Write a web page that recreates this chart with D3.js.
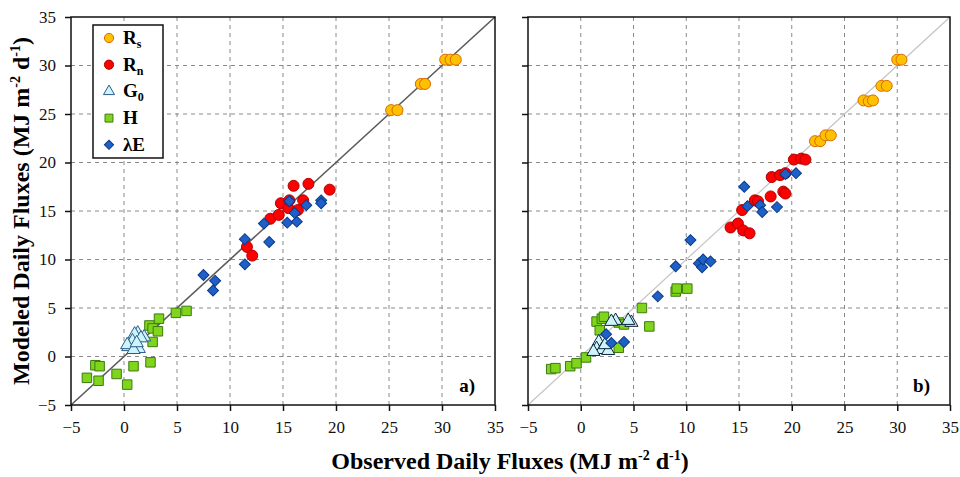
<!DOCTYPE html>
<html>
<head>
<meta charset="utf-8">
<script src="https://cdn.jsdelivr.net/npm/d3@7"></script>
<style>
  body { margin: 0; background: #fff; }
  text { font-family: "Liberation Serif", "Times New Roman", serif; }
</style>
</head>
<body>
<svg id="chart" width="960" height="477"></svg>
<script>
// tick values shared by both axes
const tickValues = [-5, 0, 5, 10, 15, 20, 25, 30, 35];

// panel a) — [observed, modeled]
const rsA = [[25.2, 25.4], [25.8, 25.4], [28.0, 28.1], [28.4, 28.1], [30.3, 30.6], [30.8, 30.6], [31.3, 30.6]];
const rnA = [[11.6, 11.3], [12.1, 10.4], [13.8, 14.2], [14.6, 14.6], [14.8, 15.8], [15.5, 15.3], [15.6, 16.1],
             [16.4, 15.1], [16.9, 16.1], [16.0, 17.6], [17.4, 17.8], [19.4, 17.2]];
const g0A = [[1.3, 2.4], [1.0, 2.3], [1.9, 2.0], [1.6, 1.9], [0.8, 1.6], [0.4, 1.0], [0.3, 1.2],
             [1.4, 0.8], [0.9, 0.7], [1.2, 1.4]];
const hA = [[4.9, 4.5], [5.9, 4.7], [3.3, 3.9], [2.4, 3.2], [2.7, 2.9], [3.2, 2.6], [2.7, 1.5],
            [2.5, -0.6], [0.9, -1.0], [-2.7, -0.9], [-2.3, -1.0], [-0.7, -1.8], [-3.5, -2.2],
            [-2.4, -2.5], [0.3, -2.9]];
const leA = [[7.5, 8.4], [8.6, 7.8], [8.4, 6.8], [11.4, 9.5], [11.4, 12.1], [13.7, 11.8], [13.2, 13.7],
             [15.4, 13.8], [16.3, 13.9], [15.6, 16.0], [16.1, 14.8], [17.2, 15.6], [18.6, 16.1], [18.6, 15.8]];

// panel b)
const rsB = [[22.2, 22.2], [22.7, 22.2], [23.2, 22.8], [23.7, 22.8], [26.8, 26.4], [27.3, 26.3], [27.7, 26.4],
             [28.5, 27.9], [29.0, 27.9], [30.0, 30.6], [30.4, 30.6]];
const rnB = [[20.2, 20.3], [20.9, 20.4], [21.3, 20.3], [18.1, 18.5], [18.9, 18.7], [19.4, 18.9], [19.2, 17.0],
             [19.4, 16.8], [18.0, 16.5], [16.5, 16.1], [16.8, 16.0], [15.3, 15.1], [14.2, 13.3], [14.9, 13.7],
             [15.4, 13.0], [16.0, 12.7]];
const g0B = [[3.3, 3.7], [4.8, 3.5], [4.5, 3.7], [2.9, 3.6], [1.7, 1.5], [1.5, 0.8], [2.0, 0.7],
             [2.6, 0.6], [1.2, 0.5], [2.3, 1.2]];
const hB = [[-2.8, -1.3], [-2.4, -1.2], [-1.0, -1.0], [-0.4, -0.7], [0.5, -0.1], [1.5, 3.6], [2.0, 3.9],
            [2.2, 4.1], [1.8, 2.7], [3.6, 3.5], [4.1, 3.3], [3.6, 0.9], [5.8, 5.0], [6.5, 3.1],
            [9.0, 6.7], [9.1, 7.0], [10.1, 7.0]];
const leB = [[2.4, 2.3], [2.9, 1.4], [4.1, 1.5], [7.3, 6.2], [9.0, 9.3], [10.4, 12.0], [11.2, 9.6], [11.5, 9.2],
             [11.6, 10.0], [12.3, 9.8], [15.5, 17.5], [15.8, 15.5], [17.0, 15.6], [17.2, 14.9], [18.6, 15.4],
             [19.4, 18.8], [20.4, 18.9]];

const svg = d3.select('#chart');

const plotTop = 17, plotBottom = 405;
const y = d3.scaleLinear().domain([-5, 35]).range([plotBottom, plotTop]);

// marker styles, one per flux
const styles = {
    rs: { symbol: d3.symbolCircle, size: 95, fill: '#ffc000', stroke: '#d86a00' },
    rn: { symbol: d3.symbolCircle, size: 95, fill: '#ff0000', stroke: '#b00000' },
    g0: { symbol: d3.symbolTriangle, size: 75, fill: '#cdf3fb', stroke: '#2d5c8a' },
    h: { symbol: d3.symbolSquare, size: 90, fill: '#7fd41c', stroke: '#3f7a10' },
    le: { symbol: d3.symbolSquare, size: 60, fill: '#1f5fc8', stroke: '#0a3a8a', rotate: 45 },
};

function drawPanel(x0, x1, series, opts) {
    const x = d3.scaleLinear().domain([-5, 35]).range([x0, x1]);
    const g = svg.append('g');

    // dashed grid
    g.append('g').selectAll('line').data(tickValues.slice(1, -1))
        .enter().append('line')
        .attr('x1', d => x(d)).attr('x2', d => x(d))
        .attr('y1', plotTop).attr('y2', plotBottom)
        .attr('stroke', '#8a8a8a').attr('stroke-dasharray', '4,4');
    g.append('g').selectAll('line').data(tickValues.slice(1, -1))
        .enter().append('line')
        .attr('x1', x0).attr('x2', x1)
        .attr('y1', d => y(d)).attr('y2', d => y(d))
        .attr('stroke', '#8a8a8a').attr('stroke-dasharray', '4,4');

    // 1:1 line
    g.append('line')
        .attr('x1', x(-5)).attr('y1', y(-5))
        .attr('x2', x(35)).attr('y2', y(35))
        .attr('stroke', opts.lineColor).attr('stroke-width', opts.lineWidth);

    // frame
    g.append('rect')
        .attr('x', x0).attr('y', plotTop)
        .attr('width', x1 - x0).attr('height', plotBottom - plotTop)
        .attr('fill', 'none').attr('stroke', '#111').attr('stroke-width', 1.5);

    const xAxis = g.append('g')
        .attr('transform', `translate(0,${plotBottom})`)
        .call(d3.axisBottom(x).tickValues(tickValues).tickSize(6).tickPadding(10).tickFormat(d3.format('d')));
    xAxis.select('.domain').remove();
    xAxis.selectAll('line').attr('stroke', '#111').attr('stroke-width', 1.5);
    xAxis.selectAll('text').attr('font-size', 17).attr('fill', '#111')
        .style('font-family', '"Liberation Serif", serif');

    if (opts.yAxis) {
        const yAxis = g.append('g')
            .attr('transform', `translate(${x0},0)`)
            .call(d3.axisLeft(y).tickValues(tickValues).tickSize(6).tickPadding(9).tickFormat(d3.format('d')));
        yAxis.select('.domain').remove();
        yAxis.selectAll('line').attr('stroke', '#111').attr('stroke-width', 1.5);
        yAxis.selectAll('text').attr('font-size', 17).attr('fill', '#111')
            .style('font-family', '"Liberation Serif", serif');
    } else {
        const ticksLeft = g.append('g')
            .attr('transform', `translate(${x0},0)`)
            .call(d3.axisLeft(y).tickValues(tickValues).tickSize(6).tickFormat(''));
        ticksLeft.select('.domain').remove();
        ticksLeft.selectAll('line').attr('stroke', '#111').attr('stroke-width', 1.5);
    }

    // markers
    series.forEach(s => {
        const st = styles[s.key];
        g.append('g').selectAll('path').data(s.data)
            .enter().append('path')
            .attr('d', d3.symbol().type(st.symbol).size(st.size))
            .attr('transform', d => `translate(${x(d[0])},${y(d[1])})` + (st.rotate ? ` rotate(${st.rotate})` : ''))
            .attr('fill', st.fill)
            .attr('stroke', s.stroke || st.stroke)
            .attr('stroke-width', 1);
    });

    g.append('text')
        .attr('x', x1 - 20).attr('y', plotBottom - 13)
        .attr('text-anchor', 'end')
        .attr('font-size', 19).attr('font-weight', 'bold')
        .text(opts.label);
}

drawPanel(71, 495, [
    { key: 'rs', data: rsA }, { key: 'rn', data: rnA },
    { key: 'h', data: hA }, { key: 'g0', data: g0A }, { key: 'le', data: leA },
], { yAxis: true, lineColor: '#5a5a5a', lineWidth: 1.6, label: 'a)' });

drawPanel(528, 950, [
    { key: 'rs', data: rsB }, { key: 'rn', data: rnB },
    { key: 'h', data: hB }, { key: 'g0', data: g0B, stroke: '#10233a' }, { key: 'le', data: leB },
], { yAxis: false, lineColor: '#c4c4c4', lineWidth: 1.2, label: 'b)' });

// legend
const legendItems = [
    { key: 'rs', main: 'R', sub: 's' },
    { key: 'rn', main: 'R', sub: 'n' },
    { key: 'g0', main: 'G', sub: '0' },
    { key: 'h', main: 'H', sub: '' },
    { key: 'le', main: 'λE', sub: '' },
];
const legend = svg.append('g');
legend.append('rect')
    .attr('x', 93).attr('y', 25).attr('width', 70).attr('height', 133)
    .attr('fill', '#fff').attr('stroke', '#111').attr('stroke-width', 1.5);
const rows = legend.selectAll('g.row').data(legendItems)
    .enter().append('g')
    .attr('transform', (d, i) => `translate(109,${38 + i * 26.7})`);
rows.append('path')
    .attr('d', d => d3.symbol().type(styles[d.key].symbol).size(styles[d.key].size * 0.7)())
    .attr('transform', d => styles[d.key].rotate ? `rotate(${styles[d.key].rotate})` : null)
    .attr('fill', d => styles[d.key].fill)
    .attr('stroke', d => styles[d.key].stroke);
const lbl = rows.append('text')
    .attr('x', 14).attr('y', 6)
    .attr('font-size', 19).attr('font-weight', 'bold');
lbl.append('tspan').text(d => d.main);
lbl.append('tspan').attr('font-size', 12).attr('dy', 4).text(d => d.sub);

// axis titles
const xTitle = svg.append('text')
    .attr('x', 510).attr('y', 469)
    .attr('text-anchor', 'middle')
    .attr('font-size', 24).attr('font-weight', 'bold');
xTitle.append('tspan').text('Observed Daily Fluxes (MJ m');
xTitle.append('tspan').attr('font-size', 14).attr('dy', -9).text('-2');
xTitle.append('tspan').attr('dy', 9).text(' d');
xTitle.append('tspan').attr('font-size', 14).attr('dy', -9).text('-1');
xTitle.append('tspan').attr('dy', 9).text(')');

const yTitle = svg.append('text')
    .attr('transform', 'translate(29,211) rotate(-90)')
    .attr('text-anchor', 'middle')
    .attr('font-size', 24).attr('font-weight', 'bold');
yTitle.append('tspan').text('Modeled Daily Fluxes (MJ m');
yTitle.append('tspan').attr('font-size', 14).attr('dy', -9).text('-2');
yTitle.append('tspan').attr('dy', 9).text(' d');
yTitle.append('tspan').attr('font-size', 14).attr('dy', -9).text('-1');
yTitle.append('tspan').attr('dy', 9).text(')');
</script>
</body>
</html>
